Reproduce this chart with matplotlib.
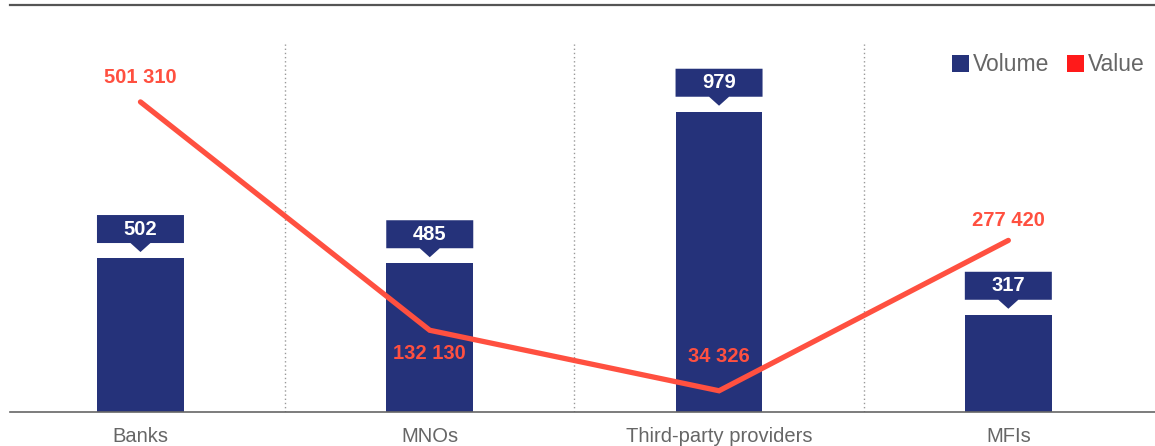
import matplotlib.pyplot as plt
import matplotlib.transforms as mtransforms
from matplotlib.patches import Polygon, Patch

plt.rcParams['font.family'] = ['Liberation Sans', 'DejaVu Sans']

# data
categories = ['Banks', 'MNOs', 'Third-party providers', 'MFIs']
volume = [502, 485, 979, 317]
value = [501310, 132130, 34326, 277420]
value_labels = ['501 310', '132 130', '34 326', '277 420']

# vertical offset (pixels) of the value labels from the line point
value_label_dy = [24, -23, 34, 20]

bar_color = '#25327a'
line_color = '#ff5040'
text_gray = '#666666'

fig = plt.figure(figsize=(11.55, 4.46), dpi=100)
ax = fig.add_axes([10 / 1155, 34 / 446, 1145 / 1155, 407 / 446])
ax2 = ax.twinx()

x = list(range(len(categories)))
ax.bar(x, volume, width=0.30, color=bar_color, zorder=2)
ax.set_xlim(-0.451, 3.507)
ax.set_ylim(0, 1327)
ax2.set_ylim(0, 658000)

# separators
for s in [0.5, 1.5, 2.5]:
    ax.axvline(s, ymin=0, ymax=0.904, color='#999999', linestyle=(0, (1, 2)), linewidth=1, zorder=1)

# bar labels: box with small pointer
for xi, v in zip(x, volume):
    tr = fig.dpi_scale_trans + mtransforms.ScaledTranslation(xi, v, ax.transData)
    shape = [(-0.435, 0.15), (-0.10, 0.15), (0, 0.06), (0.10, 0.15), (0.435, 0.15),
             (0.435, 0.43), (-0.435, 0.43)]
    ax.add_patch(Polygon(shape, closed=True, transform=tr, facecolor=bar_color,
                         edgecolor='none', clip_on=False, zorder=3))
    ax.text(0, 0.29, str(v), transform=tr, ha='center', va='center', color='white',
            fontsize=14.5, fontweight='bold', zorder=4)

# line
ax2.plot(x, value, color=line_color, linewidth=3.8, solid_capstyle='round',
         solid_joinstyle='miter', zorder=5)
for xi, v, lab, dy in zip(x, value, value_labels, value_label_dy):
    tr = fig.dpi_scale_trans + mtransforms.ScaledTranslation(xi, v, ax2.transData)
    ax2.text(0, dy / 100, lab, transform=tr, ha='center', va='center', color=line_color,
             fontsize=14.5, fontweight='bold', zorder=6)

# axes styling
for a in (ax, ax2):
    a.spines['left'].set_visible(False)
    a.spines['right'].set_visible(False)
    a.set_yticks([])
ax2.spines['top'].set_visible(False)
ax2.spines['bottom'].set_visible(False)
ax.spines['top'].set_color('#555555')
ax.spines['top'].set_linewidth(1.6)
ax.spines['bottom'].set_color('#666666')
ax.spines['bottom'].set_linewidth(1.2)
ax.set_xticks(x)
ax.set_xticklabels(categories, fontsize=14.5, color=text_gray)
ax.tick_params(axis='x', length=0, pad=11)

handles = [Patch(facecolor=bar_color, label='Volume'), Patch(facecolor='#ff1a1a', label='Value')]
leg = ax.legend(handles=handles, ncol=2, loc='upper right', bbox_to_anchor=(1.003, 0.915),
                frameon=False, fontsize=16.5, handlelength=0.75, handleheight=0.75,
                handletextpad=0.15, columnspacing=0.8, borderaxespad=0.2)
for t in leg.get_texts():
    t.set_color(text_gray)

fig.savefig('out.png', dpi=100)
